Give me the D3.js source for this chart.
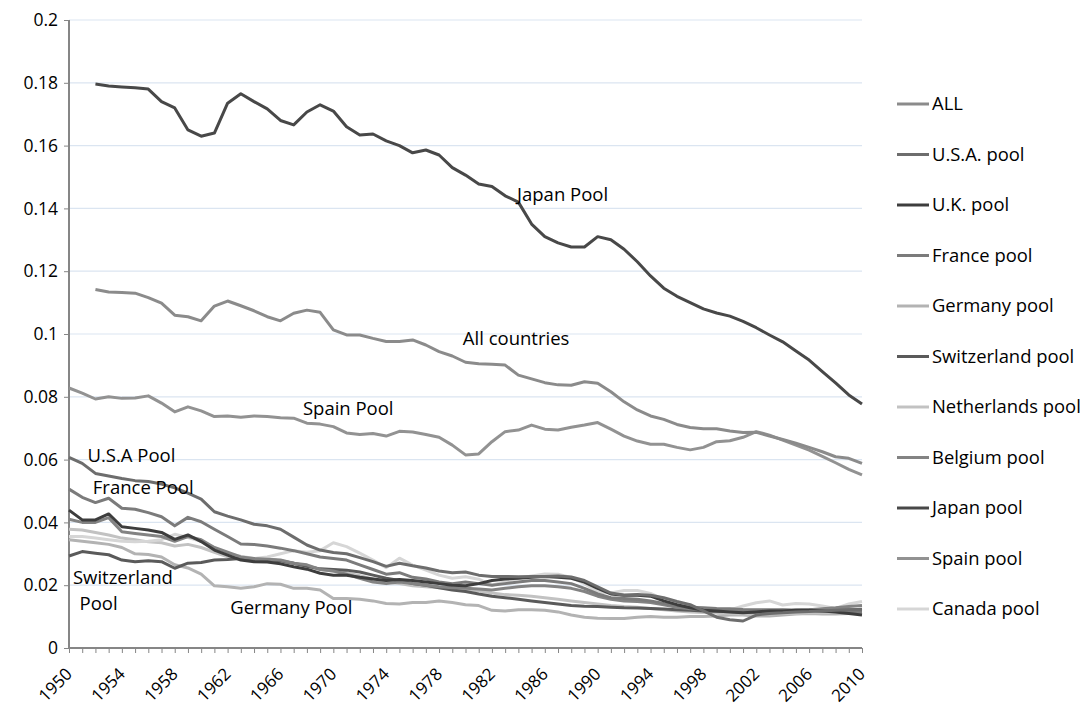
<!DOCTYPE html>
<html>
<head>
<meta charset="utf-8">
<script src="https://cdn.jsdelivr.net/npm/d3@7"></script>
<style>
  body { margin: 0; background: #fff; }
  text { font-family: "Open Sans", "Liberation Sans", sans-serif; fill: #000; }
</style>
</head>
<body>
<div class="main"></div>
<script>
const w = 1081;
const h = 706;
const margin = { top: 20, right: 219, bottom: 58, left: 69 };

const years = d3.range(1950, 2011);
const yTicks = [0, 0.02, 0.04, 0.06, 0.08, 0.1, 0.12, 0.14, 0.16, 0.18, 0.2];
const xLabelYears = [1950, 1954, 1958, 1962, 1966, 1970, 1974, 1978, 1982, 1986, 1990, 1994, 1998, 2002, 2006, 2010];

const allPool = [null, null, .1142, .1134, .1132, .113, .1116, .1098, .106, .1055, .1042, .1089, .1105, .109, .1074, .1055, .1042, .1066, .1076, .1069, .1013, .0997, .0997, .0986, .0976, .0976, .0981, .0965, .0944, .093, .091, .0905, .0904, .0901, .0869, .0857, .0845, .0838, .0837, .0848, .0843, .0816, .0784, .0758, .0739, .0728, .0712, .0702, .0698, .0698, .0691, .0686, .0687, .0675, .0664, .0652, .0639, .0625, .0609, .0604, .0588];
const usaPool = [.0607, .0588, .0556, .0548, .054, .0533, .053, .0522, .051, .0493, .0474, .0434, .042, .0408, .0394, .0389, .0378, .0353, .0328, .0312, .0304, .030, .0288, .0275, .026, .027, .0262, .0255, .0245, .024, .0242, .0232, .0228, .0228, .0227, .0228, .0228, .0229, .0226, .0215, .0195, .0175, .0168, .017, .0168, .016, .0148, .0138, .0118, .0098, .009, .0086, .0105, .011, .0112, .0115, .0116, .0118, .012, .0122, .0122];
const ukPool = [.0439, .0408, .0408, .0427, .0386, .0381, .0376, .0368, .0346, .036, .0339, .0312, .0296, .028, .0275, .0274, .0268, .0259, .0251, .0238, .0232, .0232, .0225, .022, .0215, .0218, .0215, .021, .0205, .020, .0198, .0205, .0215, .022, .0222, .0225, .0228, .0225, .0222, .021, .019, .0172, .0168, .0168, .0165, .015, .0138, .0128, .012, .0118, .0115, .0112, .0115, .0118, .0118, .012, .012, .0118, .0115, .011, .0105];
const francePool = [.0506, .048, .0463, .0477, .0445, .0442, .0431, .0418, .0389, .0416, .0402, .0378, .0355, .0331, .033, .0325, .0318, .031, .030, .029, .0285, .028, .0265, .025, .0235, .024, .0225, .022, .021, .0205, .021, .0205, .020, .0205, .021, .0215, .0215, .021, .0205, .019, .0172, .016, .0158, .0155, .015, .0142, .0135, .013, .0128, .0126, .0125, .0123, .0122, .0122, .0122, .012, .012, .0118, .0118, .0117, .0115];
const germanyPool = [.0345, .034, .0335, .033, .032, .030, .0298, .029, .0265, .0255, .0235, .0198, .0195, .019, .0195, .0205, .0203, .019, .019, .0185, .0158, .0158, .0155, .015, .0142, .014, .0145, .0145, .015, .0145, .0138, .0135, .012, .0118, .0122, .0122, .012, .0115, .0105, .0098, .0095, .0094, .0094, .0098, .01, .0098, .0098, .01, .01, .0102, .0105, .0105, .0102, .0102, .0105, .0108, .011, .0108, .0108, .011, .0112];
const switzerlandPool = [.0293, .0307, .0302, .0297, .028, .0275, .0278, .0275, .0254, .027, .0272, .028, .0282, .0285, .0283, .0282, .0278, .027, .026, .0252, .025, .0248, .0242, .0232, .0222, .0215, .0205, .020, .0192, .0185, .018, .0172, .0165, .016, .0155, .015, .0145, .014, .0135, .0133, .0132, .013, .0128, .0127, .0126, .0124, .0122, .012, .0118, .0117, .0116, .0115, .0115, .0117, .0118, .012, .012, .0121, .0122, .0122, .0123];
const netherlandsPool = [.0378, .0376, .0368, .036, .035, .0345, .0338, .0335, .0325, .033, .032, .0305, .029, .0285, .028, .0278, .0275, .027, .0262, .025, .0245, .024, .023, .022, .021, .0205, .0198, .0195, .0192, .019, .0186, .0182, .0175, .017, .0168, .0165, .016, .0155, .015, .0145, .014, .0135, .0132, .013, .0126, .0122, .0118, .0115, .0113, .0112, .011, .0108, .0108, .0108, .011, .011, .0112, .0112, .0114, .0118, .0125];
const belgiumPool = [.041, .040, .040, .0415, .037, .0365, .036, .0355, .034, .0355, .0345, .032, .0305, .029, .0285, .0283, .028, .027, .0265, .025, .0245, .0235, .0222, .021, .0205, .021, .0205, .020, .0195, .0192, .019, .0188, .0185, .019, .0195, .0198, .0198, .0195, .019, .018, .0165, .0155, .015, .0148, .0145, .0138, .013, .0125, .0122, .012, .0118, .0118, .0118, .0118, .012, .012, .0122, .0125, .0128, .0132, .0135];
const japanPool = [null, null, .1796, .179, .1787, .1784, .178, .174, .172, .165, .163, .164, .1735, .1765, .174, .1717, .168, .1666, .1707, .173, .171, .166, .1634, .1637, .1615, .160, .1577, .1586, .157, .153, .1506, .1478, .147, .144, .142, .135, .131, .129, .1277, .1277, .131, .130, .127, .123, .1185, .1146, .112, .110, .108, .1067, .1057, .104, .102, .0997, .0975, .0946, .0917, .088, .0844, .0806, .0777];
const spainPool = [.0828, .0812, .0793, .080, .0795, .0796, .0803, .078, .0752, .0768, .0755, .0737, .0739, .0735, .0739, .0737, .0733, .0732, .0716, .0713, .0705, .0685, .068, .0683, .0675, .069, .0688, .068, .0671, .0646, .0615, .0618, .0657, .0689, .0694, .071, .0697, .0694, .0703, .071, .0718, .0697, .0675, .0659, .0649, .0649, .0639, .0631, .0639, .0657, .066, .0671, .0689, .0678, .0662, .0646, .063, .061, .059, .0569, .0551];
const canadaPool = [.0355, .0355, .035, .0345, .034, .0338, .034, .0345, .0362, .0352, .034, .032, .030, .0292, .0285, .029, .030, .031, .0305, .031, .0335, .0323, .0302, .028, .0256, .0286, .0264, .0248, .0232, .0222, .0227, .0219, .020, .0211, .0222, .0229, .0236, .0235, .0225, .0205, .0178, .0175, .0183, .0183, .0174, .0155, .0144, .0126, .0119, .0116, .0121, .0134, .0144, .015, .0137, .0142, .014, .0134, .0126, .014, .0148];

const seriesNames = ['ALL', 'U.S.A. pool', 'U.K. pool', 'France pool', 'Germany pool', 'Switzerland pool', 'Netherlands pool', 'Belgium pool', 'Japan pool', 'Spain pool', 'Canada pool'];
const seriesValues = [allPool, usaPool, ukPool, francePool, germanyPool, switzerlandPool, netherlandsPool, belgiumPool, japanPool, spainPool, canadaPool];
const seriesColors = ['#8b8b8b', '#6d6d6d', '#3d3d3d', '#7b7b7b', '#b3b3b3', '#5a5a5a', '#c2c2c2', '#838383', '#484848', '#929292', '#d6d6d6'];

const annotations = [
  { text: 'Japan Pool', year: 1983.9, value: 0.1445 },
  { text: 'All countries', year: 1979.8, value: 0.0985 },
  { text: 'Spain Pool', year: 1967.7, value: 0.0763 },
  { text: 'U.S.A Pool', year: 1951.4, value: 0.0612 },
  { text: 'France Pool', year: 1951.8, value: 0.051 },
  { text: 'Switzerland', year: 1950.3, value: 0.0224 },
  { text: 'Pool', year: 1950.8, value: 0.0141 },
  { text: 'Germany Pool', year: 1962.2, value: 0.0128 }
];

const svg = d3.select('.main').append('svg').attr('width', w).attr('height', h);

const x = d3.scaleLinear().domain([1950, 2010]).range([margin.left, w - margin.right]);
const y = d3.scaleLinear().domain([0, 0.2]).range([h - margin.bottom, margin.top]);

// gridlines
svg.append('g')
  .selectAll('line')
  .data(yTicks.filter(d => d > 0))
  .enter()
  .append('line')
  .attr('x1', x(1950))
  .attr('x2', x(2010))
  .attr('y1', d => y(d))
  .attr('y2', d => y(d))
  .attr('stroke', '#dbe5f1')
  .attr('stroke-width', 1.2);

// y axis
const yAxis = svg.append('g')
  .attr('transform', `translate(${margin.left},0)`)
  .call(d3.axisLeft(y).tickValues(yTicks).tickSize(5).tickPadding(6)
    .tickFormat(d => (d === 0 ? '0' : String(+d.toFixed(2)))));
yAxis.selectAll('text').style('font-size', '17.5px');
yAxis.selectAll('line').attr('stroke', '#868686');
yAxis.select('.domain').attr('stroke', '#868686').attr('stroke-width', 2).attr('d', `M0,${y(0)}V${y(0.2)}`);

// x axis
const xAxis = svg.append('g')
  .attr('transform', `translate(0,${y(0)})`)
  .call(d3.axisBottom(x).tickValues(years).tickSize(5).tickFormat(''));
xAxis.selectAll('line').attr('stroke', '#868686');
xAxis.select('.domain').attr('stroke', '#868686').attr('stroke-width', 2).attr('d', `M${x(1950)},0H${x(2010)}`);

svg.append('g')
  .selectAll('text')
  .data(xLabelYears)
  .enter()
  .append('text')
  .attr('transform', d => `translate(${x(d)},${y(0) + 23}) rotate(-45)`)
  .attr('text-anchor', 'end')
  .attr('dy', '0.35em')
  .style('font-size', '17px')
  .text(d => d);

// lines
const line = d3.line()
  .defined(d => d[1] !== null)
  .x(d => x(d[0]))
  .y(d => y(d[1]));

const drawOrder = [4, 6, 10, 5, 7, 3, 2, 1, 9, 0, 8];
svg.append('g')
  .selectAll('path')
  .data(drawOrder)
  .enter()
  .append('path')
  .attr('fill', 'none')
  .attr('stroke', i => seriesColors[i])
  .attr('stroke-width', 3)
  .attr('stroke-linejoin', 'round')
  .attr('d', i => line(years.map((yr, k) => [yr, seriesValues[i][k]])));

// annotations
svg.append('g')
  .selectAll('text')
  .data(annotations)
  .enter()
  .append('text')
  .attr('x', d => x(d.year))
  .attr('y', d => y(d.value))
  .attr('dy', '0.35em')
  .style('font-size', '18.5px')
  .text(d => d.text);

// legend
const legend = svg.append('g')
  .selectAll('g')
  .data(seriesNames)
  .enter()
  .append('g')
  .attr('transform', (d, i) => `translate(897,${104 + i * 50.5})`);

legend.append('line')
  .attr('x1', 0)
  .attr('x2', 32)
  .attr('stroke', (d, i) => seriesColors[i])
  .attr('stroke-width', 3);

legend.append('text')
  .attr('x', 35)
  .attr('dy', '0.35em')
  .style('font-size', '18.4px')
  .text(d => d);
</script>
</body>
</html>
